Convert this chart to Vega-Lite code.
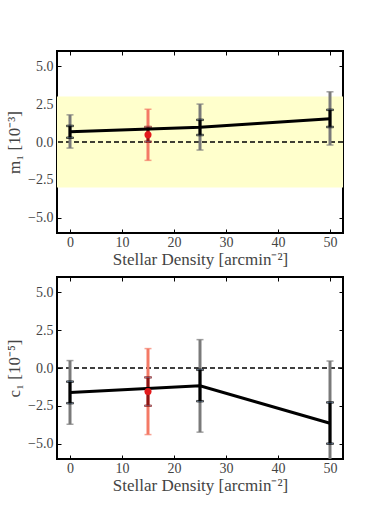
{
  "$schema": "https://vega.github.io/schema/vega-lite/v6.json",
  "background": "white",
  "padding": {"left": 4, "top": 49, "right": 5, "bottom": 5},
  "bounds": "flush",
  "spacing": 44,
  "datasets": {
    "m1": [
      {"density": 0, "value": 0.68, "in_lo": 0.28, "in_hi": 1.06, "out_lo": -0.40, "out_hi": 1.79, "type": "main"},
      {"density": 15, "value": 0.47, "in_lo": 0.02, "in_hi": 0.99, "out_lo": -1.21, "out_hi": 2.16, "type": "test"},
      {"density": 25, "value": 0.98, "in_lo": 0.46, "in_hi": 1.46, "out_lo": -0.53, "out_hi": 2.50, "type": "main"},
      {"density": 50, "value": 1.54, "in_lo": 0.99, "in_hi": 2.12, "out_lo": -0.20, "out_hi": 3.31, "type": "main"}
    ],
    "c1": [
      {"density": 0, "value": -1.61, "in_lo": -2.32, "in_hi": -0.90, "out_lo": -3.71, "out_hi": 0.49, "type": "main"},
      {"density": 15, "value": -1.55, "in_lo": -2.49, "in_hi": -0.62, "out_lo": -4.39, "out_hi": 1.28, "type": "test"},
      {"density": 25, "value": -1.17, "in_lo": -2.19, "in_hi": -0.12, "out_lo": -4.23, "out_hi": 1.87, "type": "main"},
      {"density": 50, "value": -3.64, "in_lo": -4.99, "in_hi": -2.27, "out_lo": -7.74, "out_hi": 0.46, "type": "main"}
    ],
    "band": [{"lo": -3, "hi": 3}],
    "zero": [{"z": 0}]
  },
  "vconcat": [
    {
      "width": 286,
      "height": 182,
      "resolve": {"axis": {"x": "independent", "y": "independent"}},
      "layer": [
        {
          "data": {"name": "band"},
          "mark": {"type": "rect", "color": "#ffffcc"},
          "encoding": {
            "y": {"field": "lo", "type": "quantitative", "scale": {"domain": [-6, 6], "nice": false, "zero": false}, "axis": null},
            "y2": {"field": "hi"}
          }
        },
        {
          "data": {"name": "zero"},
          "mark": {"type": "rule", "color": "black", "strokeDash": [5, 3], "strokeWidth": 1.3},
          "encoding": {"y": {"field": "z", "type": "quantitative", "axis": null}}
        },
        {
          "data": {"name": "m1"},
          "mark": {"type": "rule", "strokeWidth": 3, "clip": true},
          "encoding": {
            "x": {"field": "density", "type": "quantitative", "scale": {"domain": [-2.5, 52.5], "nice": false, "zero": false}, "axis": {"values": [0, 10, 20, 30, 40, 50], "title": "Stellar Density [arcmin⁻²]"}},
            "y": {"field": "out_lo", "type": "quantitative", "axis": {"values": [-5, -2.5, 0, 2.5, 5], "format": ".1f", "title": "m₁ [10⁻³]"}},
            "y2": {"field": "out_hi"},
            "color": {"field": "type", "type": "nominal", "scale": {"domain": ["main", "test"], "range": ["#7a7a7a", "#f47a66"]}, "legend": null}
          }
        },
        {
          "data": {"name": "m1"},
          "transform": [{"fold": ["out_lo", "out_hi"], "as": ["k", "cap"]}],
          "mark": {"type": "tick", "orient": "horizontal", "size": 7, "thickness": 1.5, "clip": true},
          "encoding": {
            "x": {"field": "density", "type": "quantitative", "axis": null},
            "y": {"field": "cap", "type": "quantitative", "axis": null},
            "color": {"field": "type", "type": "nominal", "scale": {"domain": ["main", "test"], "range": ["#7a7a7a", "#f47a66"]}, "legend": null}
          }
        },
        {
          "data": {"name": "m1"},
          "mark": {"type": "rule", "strokeWidth": 3},
          "encoding": {
            "x": {"field": "density", "type": "quantitative", "axis": null},
            "y": {"field": "in_lo", "type": "quantitative", "axis": null},
            "y2": {"field": "in_hi"},
            "stroke": {"field": "type", "type": "nominal", "scale": {"domain": ["main", "test"], "range": ["#000000", "#8b1414"]}, "legend": null}
          }
        },
        {
          "data": {"name": "m1"},
          "transform": [{"fold": ["in_lo", "in_hi"], "as": ["k", "cap"]}],
          "mark": {"type": "tick", "orient": "horizontal", "size": 7, "thickness": 1.5},
          "encoding": {
            "x": {"field": "density", "type": "quantitative", "axis": null},
            "y": {"field": "cap", "type": "quantitative", "axis": null},
            "stroke": {"field": "type", "type": "nominal", "scale": {"domain": ["main", "test"], "range": ["#000000", "#8b1414"]}, "legend": null}
          }
        },
        {
          "data": {"name": "m1"},
          "transform": [{"filter": "datum.type === 'main'"}],
          "mark": {"type": "line", "color": "black", "strokeWidth": 3},
          "encoding": {
            "x": {"field": "density", "type": "quantitative", "axis": {"orient": "top", "values": [0, 10, 20, 30, 40, 50], "labels": false, "title": null}},
            "y": {"field": "value", "type": "quantitative", "axis": {"orient": "right", "values": [-5, -2.5, 0, 2.5, 5], "labels": false, "title": null}}
          }
        },
        {
          "data": {"name": "m1"},
          "transform": [{"filter": "datum.type === 'test'"}],
          "mark": {"type": "circle", "color": "#e31a1c", "opacity": 1, "size": 50},
          "encoding": {
            "x": {"field": "density", "type": "quantitative", "axis": null},
            "y": {"field": "value", "type": "quantitative", "axis": null}
          }
        }
      ]
    },
    {
      "width": 286,
      "height": 182,
      "resolve": {"axis": {"x": "independent", "y": "independent"}},
      "layer": [
        {
          "data": {"name": "zero"},
          "mark": {"type": "rule", "color": "black", "strokeDash": [5, 3], "strokeWidth": 1.3},
          "encoding": {"y": {"field": "z", "type": "quantitative", "scale": {"domain": [-6, 6], "nice": false, "zero": false}, "axis": null}}
        },
        {
          "data": {"name": "c1"},
          "mark": {"type": "rule", "strokeWidth": 3, "clip": true},
          "encoding": {
            "x": {"field": "density", "type": "quantitative", "scale": {"domain": [-2.5, 52.5], "nice": false, "zero": false}, "axis": {"values": [0, 10, 20, 30, 40, 50], "title": "Stellar Density [arcmin⁻²]"}},
            "y": {"field": "out_lo", "type": "quantitative", "axis": {"values": [-5, -2.5, 0, 2.5, 5], "format": ".1f", "title": "c₁ [10⁻⁵]"}},
            "y2": {"field": "out_hi"},
            "color": {"field": "type", "type": "nominal", "scale": {"domain": ["main", "test"], "range": ["#7a7a7a", "#f47a66"]}, "legend": null}
          }
        },
        {
          "data": {"name": "c1"},
          "transform": [{"fold": ["out_lo", "out_hi"], "as": ["k", "cap"]}],
          "mark": {"type": "tick", "orient": "horizontal", "size": 7, "thickness": 1.5, "clip": true},
          "encoding": {
            "x": {"field": "density", "type": "quantitative", "axis": null},
            "y": {"field": "cap", "type": "quantitative", "axis": null},
            "color": {"field": "type", "type": "nominal", "scale": {"domain": ["main", "test"], "range": ["#7a7a7a", "#f47a66"]}, "legend": null}
          }
        },
        {
          "data": {"name": "c1"},
          "mark": {"type": "rule", "strokeWidth": 3},
          "encoding": {
            "x": {"field": "density", "type": "quantitative", "axis": null},
            "y": {"field": "in_lo", "type": "quantitative", "axis": null},
            "y2": {"field": "in_hi"},
            "stroke": {"field": "type", "type": "nominal", "scale": {"domain": ["main", "test"], "range": ["#000000", "#8b1414"]}, "legend": null}
          }
        },
        {
          "data": {"name": "c1"},
          "transform": [{"fold": ["in_lo", "in_hi"], "as": ["k", "cap"]}],
          "mark": {"type": "tick", "orient": "horizontal", "size": 7, "thickness": 1.5},
          "encoding": {
            "x": {"field": "density", "type": "quantitative", "axis": null},
            "y": {"field": "cap", "type": "quantitative", "axis": null},
            "stroke": {"field": "type", "type": "nominal", "scale": {"domain": ["main", "test"], "range": ["#000000", "#8b1414"]}, "legend": null}
          }
        },
        {
          "data": {"name": "c1"},
          "transform": [{"filter": "datum.type === 'main'"}],
          "mark": {"type": "line", "color": "black", "strokeWidth": 3},
          "encoding": {
            "x": {"field": "density", "type": "quantitative", "axis": {"orient": "top", "values": [0, 10, 20, 30, 40, 50], "labels": false, "title": null}},
            "y": {"field": "value", "type": "quantitative", "axis": {"orient": "right", "values": [-5, -2.5, 0, 2.5, 5], "labels": false, "title": null}}
          }
        },
        {
          "data": {"name": "c1"},
          "transform": [{"filter": "datum.type === 'test'"}],
          "mark": {"type": "circle", "color": "#e31a1c", "opacity": 1, "size": 50},
          "encoding": {
            "x": {"field": "density", "type": "quantitative", "axis": null},
            "y": {"field": "value", "type": "quantitative", "axis": null}
          }
        }
      ]
    }
  ],
  "config": {
    "font": "Liberation Serif",
    "view": {"stroke": "black", "strokeWidth": 2},
    "axis": {
      "grid": false,
      "domain": false,
      "tickSize": -4,
      "tickColor": "black",
      "tickWidth": 1,
      "labelFont": "Liberation Serif",
      "labelFontSize": 14,
      "labelColor": "#444444",
      "titleFont": "Liberation Serif",
      "titleFontSize": 17,
      "titleFontWeight": "normal",
      "titleColor": "#444444"
    },
    "axisX": {"labelPadding": 6, "titlePadding": 2},
    "axisY": {"labelPadding": 8, "titlePadding": 4}
  }
}
